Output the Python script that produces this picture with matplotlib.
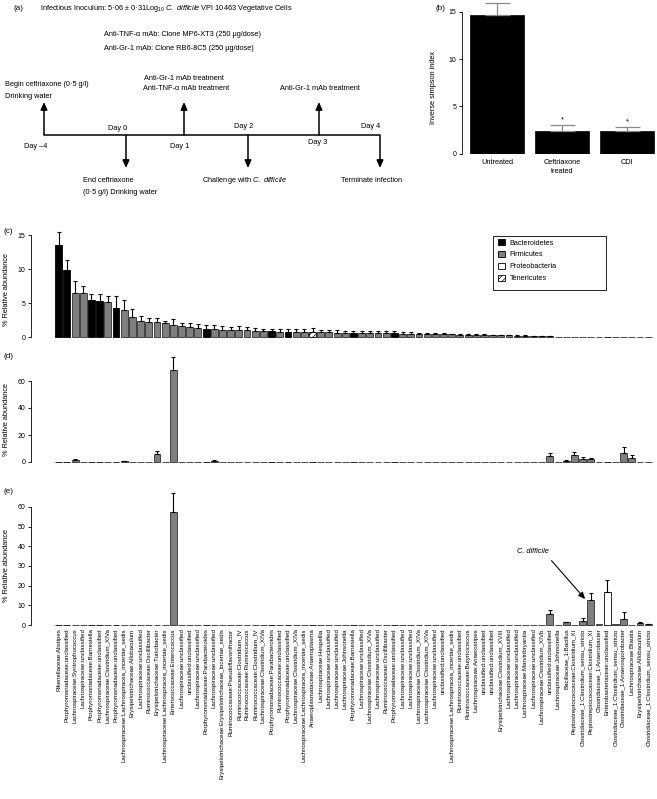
import numpy as np
import matplotlib
matplotlib.use('Agg')
import matplotlib.pyplot as plt
from matplotlib.patches import Patch, Rectangle

plt.rcParams['font.family'] = ['Liberation Sans', 'DejaVu Sans']
plt.rcParams['mathtext.fontset'] = 'custom'
plt.rcParams['mathtext.rm'] = 'Liberation Sans'
plt.rcParams['mathtext.it'] = 'Liberation Sans:italic'
plt.rcParams['hatch.linewidth'] = 0.5

# ---- panel (b): inverse simpson diversity
diversity_groups = ['Untreated', 'Ceftriaxone\ntreated', 'CDI']
diversity_mean = [14.7, 2.45, 2.45]
diversity_err = [1.2, 0.6, 0.35]
diversity_sig = ['', '*', '*']

# ---- panels (c)-(e): relative abundance per family:genus
taxa = [
    'Rikenellaceae:Alistipes', 'Porphyromonadaceae:unclassified',
    'Lachnospiraceae:Syntrophococcus', 'Lachnospiraceae:unclassified',
    'Porphyromonadaceae:Barnesiella', 'Porphyromonadaceae:unclassified',
    'Lachnospiraceae:Clostridium_XIVa', 'Porphyromonadaceae:unclassified',
    'Lachnospiraceae:Lachnospiracea_incertae_sedis', 'Erysipelotrichaceae:Allobaculum',
    'Lachnospiraceae:unclassified', 'Ruminococcaceae:Oscillibacter',
    'Erysipelotrichaceae:Turicibacter', 'Lachnospiraceae:Lachnospiracea_incertae_sedis',
    'Enterococcaceae:Enterococcus', 'Lachnospiraceae:unclassified',
    'unclassified:unclassified', 'Lachnospiraceae:unclassified',
    'Porphyromonadaceae:Parabacteroides', 'Lachnospiraceae:unclassified',
    'Erysipelotrichaceae:Erysipelotrichaceae_incertae_sedis', 'Ruminococcaceae:Pseudoflavonifractor',
    'Ruminococcaceae:Clostridium_IV', 'Ruminococcaceae:Ruminococcus',
    'Ruminococcaceae:Clostridium_IV', 'Lachnospiraceae:Clostridium_XIVa',
    'Porphyromonadaceae:Parabacteroides', 'Ruminococcaceae:unclassified',
    'Porphyromonadaceae:unclassified', 'Lachnospiraceae:Clostridium_XIVa',
    'Lachnospiraceae:Lachnospiracea_incertae_sedis', 'Anaeroplasmataceae:Anaeroplasma',
    'Lachnospiraceae:Hespellia', 'Lachnospiraceae:unclassified',
    'Lachnospiraceae:unclassified', 'Lachnospiraceae:Johnsonella',
    'Porphyromonadaceae:Barnesiella', 'Lachnospiraceae:unclassified',
    'Lachnospiraceae:Clostridium_XIVa', 'Lachnospiraceae:unclassified',
    'Ruminococcaceae:Oscillibacter', 'Porphyromonadaceae:unclassified',
    'Lachnospiraceae:unclassified', 'Lachnospiraceae:unclassified',
    'Lachnospiraceae:Clostridium_XIVa', 'Lachnospiraceae:Clostridium_XIVa',
    'Lachnospiraceae:unclassified', 'unclassified:unclassified',
    'Lachnospiraceae:Lachnospiracea_incertae_sedis', 'Ruminococcaceae:unclassified',
    'Ruminococcaceae:Butyricicoccus', 'Lachnospiraceae:Anaerostipes',
    'unclassified:unclassified', 'unclassified:unclassified',
    'Erysipelotrichaceae:Clostridium_XVIII', 'Lachnospiraceae:unclassified',
    'Lachnospiraceae:unclassified', 'Lachnospiraceae:Marvinbryantia',
    'Lachnospiraceae:unclassified', 'Lachnospiraceae:Clostridium_XIVb',
    'unclassified:unclassified', 'Lachnospiraceae:Johnsonella',
    'Bacillaceae_1:Bacillus', 'Peptostreptococcaceae:Clostridium_XI',
    'Clostridiaceae_1:Clostridium_sensu_stricto', 'Peptostreptococcaceae:Clostridium_XI',
    'Clostridiaceae_1:Anaerobacter', 'Enterobacteriaceae:unclassified',
    'Clostridiaceae_1:Clostridium_sensu_stricto', 'Clostridiaceae_1:Anaerosporobacter',
    'Lachnospiraceae:Blautia', 'Erysipelotrichaceae:Allobaculum',
    'Clostridiaceae_1:Clostridium_sensu_stricto',
]

# (c) untreated
untreated_mean = [
    13.5, 9.8, 6.5, 6.4, 5.4, 5.35, 5.2, 4.3, 4.0, 2.9,
    2.35, 2.25, 2.15, 2.0, 1.7, 1.55, 1.4, 1.3, 1.2, 1.15,
    1.1, 1.05, 1.0, 1.0, 0.95, 0.9, 0.85, 0.8, 0.8, 0.75,
    0.75, 0.7, 0.7, 0.68, 0.66, 0.64, 0.62, 0.6, 0.58, 0.56,
    0.55, 0.53, 0.5, 0.48, 0.46, 0.44, 0.42, 0.4, 0.38, 0.36,
    0.34, 0.32, 0.3, 0.28, 0.26, 0.24, 0.22, 0.2, 0.18, 0.16,
    0.14, 0, 0, 0, 0, 0, 0, 0, 0, 0,
    0, 0, 0,
]
untreated_err = [
    2.0, 1.5, 1.7, 1.1, 0.9, 0.95, 0.8, 1.7, 1.4, 1.2,
    0.75, 0.6, 0.65, 0.35, 1.0, 0.5, 0.65, 0.55, 0.5, 0.55,
    0.5, 0.4, 0.55, 0.45, 0.4, 0.3, 0.35, 0.4, 0.4, 0.45,
    0.45, 0.65, 0.3, 0.35, 0.35, 0.3, 0.3, 0.3, 0.3, 0.3,
    0.3, 0.35, 0.25, 0.25, 0.2, 0.2, 0.15, 0.15, 0.1, 0.12,
    0.1, 0.1, 0.08, 0.05, 0.05, 0.05, 0.04, 0.04, 0.03, 0.03,
    0.02, 0, 0, 0, 0, 0, 0, 0, 0, 0,
    0, 0, 0,
]

# (d) ceftriaxone treated
ceftriaxone_mean = [
    0, 0, 1.2, 0, 0, 0, 0, 0, 0.5, 0,
    0, 0, 6.0, 0, 68.5, 0, 0, 0, 0, 1.0,
    0, 0, 0, 0, 0, 0, 0, 0, 0, 0,
    0, 0, 0, 0, 0, 0, 0, 0, 0, 0,
    0, 0, 0, 0, 0, 0, 0, 0, 0, 0,
    0, 0, 0, 0, 0, 0, 0, 0, 0, 0,
    4.8, 0, 1.0, 5.2, 2.5, 2.1, 0, 0, 0, 6.4,
    3.2, 0, 0,
]
ceftriaxone_err = [
    0, 0, 0.8, 0, 0, 0, 0, 0, 0.2, 0,
    0, 0, 2.3, 0, 9.5, 0, 0, 0, 0, 0.4,
    0, 0, 0, 0, 0, 0, 0, 0, 0, 0,
    0, 0, 0, 0, 0, 0, 0, 0, 0, 0,
    0, 0, 0, 0, 0, 0, 0, 0, 0, 0,
    0, 0, 0, 0, 0, 0, 0, 0, 0, 0,
    2.2, 0, 0.3, 2.0, 0.9, 0.8, 0, 0, 0, 4.4,
    2.1, 0, 0,
]

# (e) CDI
cdi_mean = [
    0, 0, 0, 0, 0, 0, 0, 0, 0, 0,
    0, 0, 0, 0, 57.5, 0, 0, 0, 0, 0,
    0, 0, 0, 0, 0, 0, 0, 0, 0, 0,
    0, 0, 0, 0, 0, 0, 0, 0, 0, 0,
    0, 0, 0, 0, 0, 0, 0, 0, 0, 0,
    0, 0, 0, 0, 0, 0, 0, 0, 0, 0,
    5.5, 0, 1.3, 0, 2.1, 12.6, 0.3, 16.6, 0.3, 3.3,
    0.2, 1.0, 0.5,
]
cdi_err = [
    0, 0, 0, 0, 0, 0, 0, 0, 0, 0,
    0, 0, 0, 0, 9.5, 0, 0, 0, 0, 0,
    0, 0, 0, 0, 0, 0, 0, 0, 0, 0,
    0, 0, 0, 0, 0, 0, 0, 0, 0, 0,
    0, 0, 0, 0, 0, 0, 0, 0, 0, 0,
    0, 0, 0, 0, 0, 0, 0, 0, 0, 0,
    1.9, 0, 0.4, 0, 1.3, 3.8, 0, 6.4, 0, 3.1,
    0, 0.5, 0.2,
]

phyla = ['Bacteroidetes', 'Firmicutes', 'Proteobacteria', 'Tenericutes']
family_phylum = {
    'Rikenellaceae': 'Bacteroidetes',
    'Porphyromonadaceae': 'Bacteroidetes',
    'Enterobacteriaceae': 'Proteobacteria',
    'Anaeroplasmataceae': 'Tenericutes',
}
taxon_phylum = np.array([family_phylum.get(t.split(':')[0], 'Firmicutes') for t in taxa])

phylum_style = {
    'Bacteroidetes': dict(color='black', edgecolor='black', hatch=None),
    'Firmicutes': dict(color='#7f7f7f', edgecolor='#2e2e2e', hatch=None),
    'Proteobacteria': dict(color='white', edgecolor='black', hatch=None),
    'Tenericutes': dict(color='white', edgecolor='black', hatch='//////'),
}

W, H = 657, 799


def box(x0, y0, x1, y1):
    # pixel box (top-left origin) -> figure fraction
    return [x0 / W, 1 - y1 / H, (x1 - x0) / W, (y1 - y0) / H]


def abundance_panel(ax, means, errs, ymax, step):
    means = np.asarray(means, float)
    errs = np.asarray(errs, float)
    x = np.arange(len(taxa))
    for ph in phyla:
        sel = taxon_phylum == ph
        st = phylum_style[ph]
        ax.bar(x[sel], means[sel], width=0.84, color=st['color'], edgecolor=st['edgecolor'],
               hatch=st['hatch'], linewidth=0.6, clip_on=False, zorder=2)
    has = errs > 0
    eb = ax.errorbar(x[has], means[has], yerr=[np.zeros(has.sum()), errs[has]], fmt='none',
                     ecolor='black', elinewidth=0.8, capsize=1.7, capthick=0.8, zorder=3)
    for art in list(eb[1]) + list(eb[2]):
        art.set_clip_on(False)
    ax.set_xlim(-3.39, 73.08)
    ax.set_ylim(0, ymax)
    ax.set_yticks(np.arange(0, ymax + 0.01, step))
    for s in ['top', 'right', 'bottom']:
        ax.spines[s].set_visible(False)
    ax.spines['left'].set_linewidth(0.6)
    ax.tick_params(axis='y', length=2.5, width=0.6, labelsize=5, pad=1.5)
    ax.set_xticks([])
    ax.patch.set_alpha(0)


fig = plt.figure(figsize=(W / 100, H / 100), dpi=100)

# ---- (a) experimental timeline
ax_a = fig.add_axes(box(0, 0, 440, 220))
ax_a.set_xlim(0, 440)
ax_a.set_ylim(220, 0)
ax_a.axis('off')
fs = 5.3
ax_a.text(13, 8, '(a)', fontsize=5.8, va='center')
ax_a.text(40, 8, r'Infectious Inoculum: 5·06 ± 0·31Log$_{10}$ $\it{C.\ difficile}$ VPI 10463 Vegetative Cells',
          fontsize=fs, va='center')
ax_a.text(104, 34, 'Anti-TNF-α mAb: Clone MP6-XT3 (250 μg/dose)', fontsize=fs, va='center')
ax_a.text(104, 48, 'Anti-Gr-1 mAb: Clone RB6-8C5 (250 μg/dose)', fontsize=fs, va='center')

line_y = 135
day_x = [44, 126, 184, 248, 319, 380]
day_names = ['Day \u20134', 'Day 0', 'Day 1', 'Day 2', 'Day 3', 'Day 4']
day_text_pos = [(36, 147), (118, 128), (180, 147), (244, 127), (318, 143), (371, 127)]
arrow_up = [True, False, True, False, True, False]

ax_a.plot([day_x[0], day_x[-1]], [line_y, line_y], color='black', lw=1.1, solid_capstyle='butt')
for xd, name, (tx, ty), up in zip(day_x, day_names, day_text_pos, arrow_up):
    tip = line_y - 33 if up else line_y + 33
    ax_a.annotate('', xy=(xd, tip), xytext=(xd, line_y),
                  arrowprops=dict(arrowstyle='-|>,head_length=0.45,head_width=0.2', lw=1.1,
                                  color='black', shrinkA=0, shrinkB=0))
    ax_a.text(tx, ty, name, fontsize=fs, ha='center', va='center')

ax_a.text(5, 84, 'Begin ceftriaxone (0·5 g/l)', fontsize=fs, va='center')
ax_a.text(5, 96, 'Drinking water', fontsize=fs, va='center')
ax_a.text(184, 79, 'Anti-Gr-1 mAb treatment', fontsize=fs, ha='center', va='center')
ax_a.text(186, 89, 'Anti-TNF-α mAb treatment', fontsize=fs, ha='center', va='center')
ax_a.text(320, 88, 'Anti-Gr-1 mAb treatment', fontsize=fs, ha='center', va='center')
ax_a.text(83, 180, 'End ceftriaxone', fontsize=fs, va='center')
ax_a.text(83, 193, '(0·5 g/l) Drinking water', fontsize=fs, va='center')
ax_a.text(245, 180, r'Challenge with $\it{C.\ difficile}$', fontsize=fs, ha='center', va='center')
ax_a.text(372, 180, 'Terminate infection', fontsize=fs, ha='center', va='center')

# ---- (b) inverse simpson index
ax_b = fig.add_axes(box(461.7, 11.7, 657, 153.7))
xb = np.arange(len(diversity_groups))
ax_b.bar(xb, diversity_mean, width=0.83, color='black', edgecolor='black', linewidth=0.5)
eb = ax_b.errorbar(xb, diversity_mean, yerr=[np.zeros(3), diversity_err], fmt='none',
                   ecolor='#8a8a8a', elinewidth=0.9, capsize=9, capthick=0.9)
for art in list(eb[1]) + list(eb[2]):
    art.set_clip_on(False)
for i, s in enumerate(diversity_sig):
    if s:
        ax_b.text(xb[i], diversity_mean[i] + diversity_err[i] + 0.2, s, ha='center', va='bottom', fontsize=5.5)
ax_b.set_xlim(-0.543, 2.46)
ax_b.set_ylim(0, 15)
ax_b.set_yticks([0, 5, 10, 15])
ax_b.set_xticks(xb)
ax_b.set_xticklabels(diversity_groups, fontsize=5.3, linespacing=1.3)
ax_b.tick_params(axis='x', length=0, pad=4)
ax_b.tick_params(axis='y', length=2.5, width=0.6, labelsize=5, pad=1.5)
for s in ['top', 'right', 'bottom']:
    ax_b.spines[s].set_visible(False)
ax_b.spines['left'].set_linewidth(0.6)
ax_b.set_ylabel('Inverse simpson index', fontsize=5.3)
ax_b.yaxis.set_label_coords((437 - 461.7) / (657 - 461.7), 0.47)
fig.text(436 / W, 1 - 8 / H, '(b)', fontsize=5.8, va='center')

# ---- (c), (d), (e) relative abundance
ax_c = fig.add_axes(box(31, 235, 657, 337))
abundance_panel(ax_c, untreated_mean, untreated_err, 15, 5)
ax_d = fig.add_axes(box(31, 381, 657, 462))
abundance_panel(ax_d, ceftriaxone_mean, ceftriaxone_err, 60, 20)
ax_e = fig.add_axes(box(31, 507, 657, 625))
abundance_panel(ax_e, cdi_mean, cdi_err, 60, 10)

ax_e.set_xticks(np.arange(len(taxa)))
ax_e.set_xticklabels(taxa, rotation=90, fontsize=4.45, va='top', ha='center')
ax_e.tick_params(axis='x', length=0, pad=2.5)

for lab, y_lab, y_mid in [('(c)', 232, 290), ('(d)', 356, 420), ('(e)', 492, 566)]:
    fig.text(4 / W, 1 - y_lab / H, lab, fontsize=5.8, va='center')
    fig.text(7 / W, 1 - y_mid / H, '% Relative abundance', fontsize=5.3, rotation=90,
             ha='center', va='center')

# C. difficile callout
ax_e.text(57.9, 37.4, 'C. difficile', fontsize=5.3, fontstyle='italic', ha='center', va='center')
ax_e.annotate('', xy=(64.3, 13.2), xytext=(60.2, 32.7),
              arrowprops=dict(arrowstyle='-|>,head_length=0.4,head_width=0.18', lw=0.8,
                              color='black', shrinkA=0, shrinkB=0))

# phylum legend (R-style box, wider than the entries)
handles = [Patch(facecolor=phylum_style[p]['color'], edgecolor='black',
                 hatch=phylum_style[p]['hatch'], linewidth=0.6) for p in phyla]
fig.legend(handles, phyla, loc='upper left', bbox_to_anchor=(496 / W, 1 - 237 / H),
           frameon=False, fontsize=5.2, handlelength=0.9, handleheight=0.9,
           borderpad=0.3, labelspacing=0.6, handletextpad=0.7, borderaxespad=0)
fig.add_artist(Rectangle((493 / W, 1 - 290 / H), 113 / W, 54 / H, transform=fig.transFigure,
                         fill=False, edgecolor='black', linewidth=0.6))

fig.savefig('out.png', dpi=100)
